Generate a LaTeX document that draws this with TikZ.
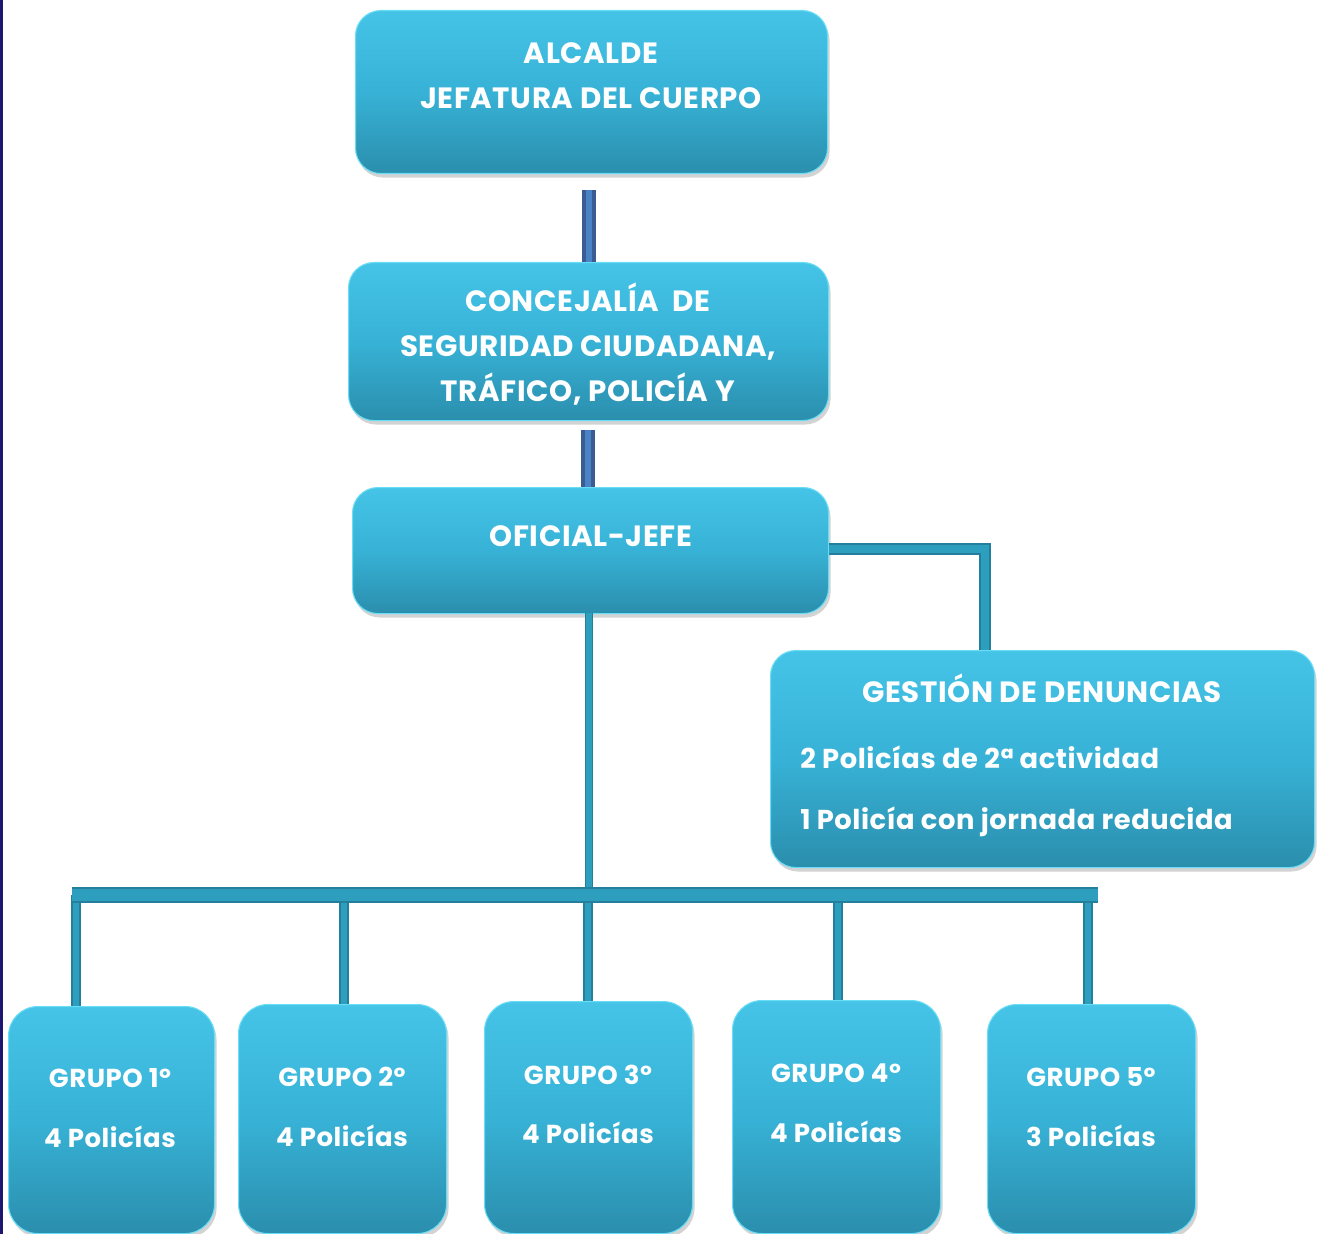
\documentclass[tikz,border=0pt]{standalone}
\usepackage{fontspec}
\setmainfont{Poppins}[LetterSpace=2]
\usetikzlibrary{shadows,calc}
\definecolor{boxtop}{HTML}{45C4E8}
\definecolor{boxmid}{HTML}{37B2D6}
\definecolor{boxbot}{HTML}{2B8EAD}
\definecolor{boxedge}{HTML}{6ADDF6}
\definecolor{conndark}{HTML}{237F9B}
\definecolor{connlight}{HTML}{2E9EBE}
\definecolor{blueedge}{HTML}{3A5C92}
\definecolor{blueinner}{HTML}{4A82C6}
\definecolor{navy}{HTML}{1C1870}
\tikzset{
  box/.style={rounded corners=19pt, top color=boxtop, bottom color=boxbot, middle color=boxmid,
    draw=boxedge, line width=0.8pt, anchor=north west, inner sep=0pt,
    drop shadow={shadow xshift=1.5pt, shadow yshift=-3pt, opacity=0.35}},
  gbox/.style={box, rounded corners=22pt},
  lbl/.style={text=white, font=\bfseries\fontsize{22}{33.75}\selectfont, align=center, inner sep=0pt},
  glbl/.style={text=white, font=\bfseries\fontsize{19.5}{22}\selectfont, inner sep=0pt},
  dlbl/.style={text=white, font=\bfseries\fontsize{20.5}{23}\selectfont, inner sep=0pt, anchor=west},
  bluebar/.style={draw=blueedge, line width=2.8pt, double=blueinner, double distance=4.4pt},
  conn/.style={draw=conndark, double=connlight, line width=1.2pt, double distance=#1},
  conn/.default=5pt
}
\begin{document}
\begin{tikzpicture}[x=0.75pt,y=-0.75pt]
\useasboundingbox (0,0) rectangle (1325,1234);
\fill[navy] (0,0) rectangle (3,1234);

% boxes
\node[box, minimum width=354pt, minimum height=122.25pt] (alc) at (355,10) {};
\node[box, minimum width=360pt, minimum height=118.5pt] (conc) at (348,262) {};
\node[box, minimum width=357pt, minimum height=94.5pt] (ofi) at (352,487) {};
\node[box, minimum width=408pt, minimum height=162.75pt] (gest) at (770,650) {};
\node[gbox, minimum width=154.5pt, minimum height=170.25pt] (g1) at (8,1006) {};
\node[gbox, minimum width=156pt, minimum height=171.75pt] (g2) at (238,1004) {};
\node[gbox, minimum width=156pt, minimum height=174pt] (g3) at (484,1001) {};
\node[gbox, minimum width=156pt, minimum height=174.75pt] (g4) at (732,1000) {};
\node[gbox, minimum width=156pt, minimum height=171.75pt] (g5) at (987,1004) {};

% labels
\node[lbl] (talc) at (591,76) {ALCALDE\\JEFATURA DEL CUERPO};
\node[lbl] (tconc) at (588,344) {CONCEJALÍA\ \ DE\\SEGURIDAD CIUDADANA,\\TRÁFICO, POLICÍA Y};
\node[lbl] (tofi) at (591,536) {OFICIAL-JEFE};
\node[lbl] (tgest) at (1042,688) {GESTIÓN DE DENUNCIAS};
\node[dlbl] (tg1) at (800,757) {2 Policías de 2ª actividad};
\node[dlbl] (tg2) at (800,822) {1 Policía con jornada reducida};
\node[glbl] (a1) at (110,1078) {GRUPO 1º};
\node[glbl] (b1) at (110,1137) {4 Policías};
\node[glbl] (a2) at (342,1077) {GRUPO 2º};
\node[glbl] (b2) at (342,1136) {4 Policías};
\node[glbl] (a3) at (588,1075) {GRUPO 3º};
\node[glbl] (b3) at (588,1133) {4 Policías};
\node[glbl] (a4) at (836,1073) {GRUPO 4º};
\node[glbl] (b4) at (836,1132) {4 Policías};
\node[glbl] (a5) at (1091,1077) {GRUPO 5º};
\node[glbl] (b5) at (1091,1136) {3 Policías};

% connectors
\coordinate (c1top) at (589,190);
\draw[bluebar] (c1top) -- (c1top |- conc.north);
\coordinate (c2top) at (588,430);
\draw[bluebar] (c2top) -- (c2top |- ofi.north);

\coordinate (gj) at (985,549);
\draw[conn=6pt] (ofi.east |- gj) -- (gj) -- (gj |- gest.north);

\coordinate (busL) at (72,895);
\coordinate (busR) at (1098,895);
\coordinate (om) at (589,613);
\draw[conn=4pt] (om) -- (om |- busL);
\coordinate (d1) at (76,895);
\coordinate (d2) at (344,895);
\coordinate (d3) at (588,895);
\coordinate (d4) at (838,895);
\coordinate (d5) at (1088,895);
\draw[conn=5pt] (d1) -- (d1 |- g1.north);
\draw[conn=5pt] (d2) -- (d2 |- g2.north);
\draw[conn=5pt] (d3) -- (d3 |- g3.north);
\draw[conn=5pt] (d4) -- (d4 |- g4.north);
\draw[conn=5pt] (d5) -- (d5 |- g5.north);
\draw[conn=9pt] (busL) -- (busR);
\end{tikzpicture}
\end{document}
